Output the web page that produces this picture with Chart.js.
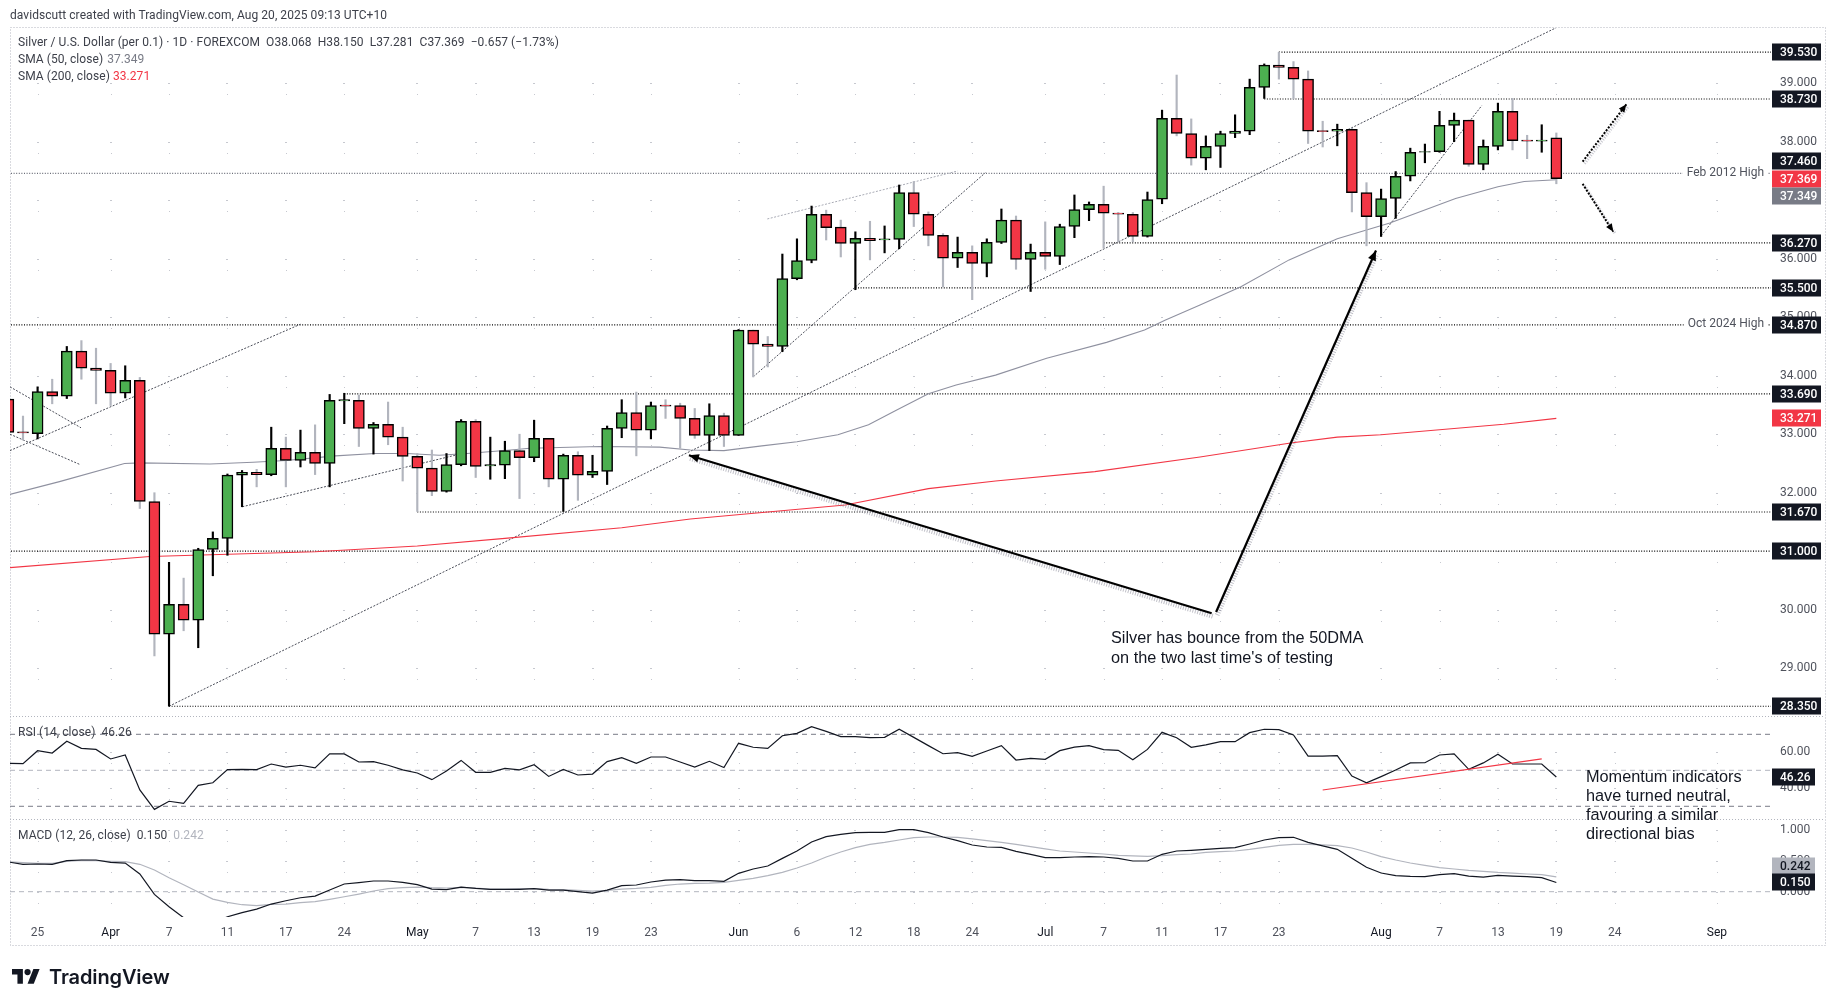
<!DOCTYPE html>
<html>
<head>
<meta charset="utf-8">
<title>Silver / U.S. Dollar</title>
<script src="https://cdn.jsdelivr.net/npm/chart.js@4"></script>
<style>
  html, body { margin:0; padding:0; background:#fff; }
  #wrap { position:relative; width:1835px; height:1006px; overflow:hidden; font-family:Roboto,sans-serif; color:#3d404a; }
  canvas { position:absolute; left:0; top:0; }
  .txt { position:absolute; white-space:pre; font-size:12px; line-height:16px; letter-spacing:.06px; }
  .note { position:absolute; white-space:pre; font-family:"Liberation Sans",Arial,sans-serif; font-size:16.3px; color:#131722; }
  #logo { position:absolute; left:12px; top:968px; }
  #brand { position:absolute; left:49px; top:965px; font:600 20px Inter,sans-serif; color:#131722; letter-spacing:-.12px; }
</style>
</head>
<body>
<div id="wrap">
  <canvas id="chart" width="1835" height="1006"></canvas>
  <div class="txt" style="left:10px;top:7px">davidscutt created with TradingView.com, Aug 20, 2025 09:13 UTC+10</div>
  <div class="txt" style="left:18px;top:34px">Silver / U.S. Dollar (per 0.1) · 1D · FOREXCOM  O38.068  H38.150  L37.281  C37.369  −0.657 (−1.73%)</div>
  <div class="txt" style="left:18px;top:51px">SMA (50, close) <span style="color:#787b86;margin-left:1px">37.349</span></div>
  <div class="txt" style="left:18px;top:68px">SMA (200, close) <span style="color:#f23645">33.271</span></div>
  <div class="txt" style="left:18px;top:724px">RSI (14, close)  46.26</div>
  <div class="txt" style="left:18px;top:827px">MACD (12, 26, close)  0.150  <span style="color:#b2b5be">0.242</span></div>
  <div class="note" style="left:1111px;top:628px;line-height:19.5px">Silver has bounce from the 50DMA
on the two last time's of testing</div>
  <div class="note" style="left:1586px;top:767px;line-height:19px">Momentum indicators
have turned neutral,
favouring a similar
directional bias</div>
  <svg id="logo" width="28" height="16" viewBox="0 0 36 20"><path fill="#131722" d="M14 20H7V8H0V1h14zM28 20h-8l7.5-19h8z"/><circle fill="#131722" cx="20" cy="5" r="4"/></svg>
  <div id="brand">TradingView</div>
</div>
<script>
// bars are counted from Mar 25 = 0, Good Friday has no bar
const opens = [33.60,33.04,33.01,33.73,33.65,34.42,34.13,34.09,33.70,33.92,31.85,29.58,30.09,29.82,31.03,31.22,32.30,32.35,32.31,32.76,32.55,32.69,32.50,33.57,33.58,33.10,33.17,32.95,32.62,32.42,32.02,32.48,33.22,32.46,32.47,32.72,32.60,32.93,32.23,32.64,32.30,32.365,
  33.10,33.37,33.07,33.50,33.49,33.27,32.98,33.32,32.98,34.78,34.54,34.50,35.66,35.97,36.76,36.54,36.26,36.35,36.32,36.33,37.13,36.76,36.40,36.01,36.11,35.92,36.28,36.66,35.99,36.11,36.04,36.55,36.84,36.93,36.78,36.76,36.38,37.02,38.40,38.14,37.72,37.92,38.14,38.18,38.93,39.31,39.27,39.07,38.19,38.18,38.21,37.13,36.72,37.03,37.41,37.82,37.83,38.28,38.37,37.61,37.92,38.52,38.03,38.01,38.068];
const closes = [33.03,33.02,33.73,33.65,34.42,34.13,34.09,33.70,33.92,31.85,29.58,30.09,29.82,31.03,31.22,32.30,32.35,32.31,32.76,32.55,32.69,32.50,33.58,33.59,33.10,33.17,32.95,32.62,32.42,32.02,32.48,33.22,32.45,32.48,32.72,32.60,32.93,32.23,32.64,32.30,32.365,33.10,
  33.37,33.07,33.49,33.48,33.27,32.98,33.32,32.98,34.78,34.54,34.50,35.66,35.97,36.76,36.53,36.26,36.35,36.31,36.34,37.13,36.76,36.40,36.01,36.11,35.92,36.28,36.66,35.99,36.11,36.04,36.55,36.84,36.93,36.78,36.76,36.38,37.01,38.40,38.14,37.72,37.92,38.14,38.18,38.93,39.31,39.27,39.07,38.18,38.17,38.21,37.13,36.72,37.03,37.41,37.82,37.83,38.28,38.37,37.61,37.92,38.52,38.02,38.01,38.03,37.369];
const highs = [33.60,33.31,33.81,33.94,34.50,34.60,34.47,34.21,34.17,33.97,32.00,30.81,30.54,31.05,31.33,32.32,32.38,32.40,33.12,32.95,33.07,33.16,33.68,33.70,33.67,33.20,33.55,33.12,32.67,32.73,32.67,33.25,33.25,32.95,32.88,33.00,33.24,32.93,32.66,32.70,32.64,33.14,
  33.59,33.72,33.55,33.59,33.53,33.44,33.52,33.36,34.79,34.78,34.67,36.08,36.34,36.90,36.83,36.66,36.46,36.64,36.56,37.26,37.32,36.80,36.43,36.37,36.22,36.34,36.85,36.73,36.25,36.63,36.59,37.09,36.97,37.24,36.79,36.79,37.14,38.54,39.14,38.39,38.10,38.18,38.46,39.07,39.33,39.53,39.37,39.21,38.35,38.30,38.23,37.30,37.19,37.49,37.89,37.96,38.52,38.49,38.37,38.03,38.66,38.74,38.11,38.29,38.15];
const lows = [33.03,32.90,32.92,33.52,33.61,33.94,33.52,33.49,33.62,31.73,29.21,28.35,29.64,29.35,30.58,30.93,31.76,32.10,32.29,32.10,32.44,32.31,32.10,33.18,32.79,32.66,32.82,32.20,31.68,31.95,32.01,32.46,32.26,32.23,32.24,31.90,32.53,32.10,31.68,31.87,32.26,32.14,
  32.94,32.63,32.92,33.27,32.76,32.93,32.72,32.79,32.98,33.98,34.15,34.41,35.64,35.93,36.32,36.03,35.47,35.98,36.10,36.17,36.55,36.22,35.52,35.85,35.30,35.69,36.26,35.82,35.44,35.82,35.90,36.36,36.65,36.18,36.29,36.29,36.37,36.94,38.10,37.60,37.52,37.56,38.07,38.12,38.74,39.07,38.73,37.97,37.91,37.93,36.80,36.22,36.38,36.69,37.33,37.64,37.82,38.00,37.58,37.52,37.86,37.86,37.71,37.82,37.281];
const rsi = [53.9,53.7,60.9,59.6,66.1,62.2,61.6,56.3,58.5,39.1,28.3,32.8,31.6,41.6,43.1,50.4,50.5,50.4,53.5,51.8,52.8,51.3,59.1,59.1,54.6,54.8,52.8,50.2,48.5,44.8,49.6,55.5,48.9,48.9,51.1,50.2,53.1,46.6,50.5,47.4,47.9,54.8,
  57.0,53.9,57.4,57.4,54.6,51.8,55.0,51.5,65.0,62.8,62.2,69.2,70.5,74.2,71.6,68.7,68.7,68.1,68.3,72.8,68.3,63.7,59.2,59.8,57.8,60.7,63.7,55.7,56.6,56.1,60.9,62.9,63.7,61.5,61.1,55.9,61.6,71.1,68.1,62.8,64.1,65.9,65.9,70.9,72.8,72.6,69.6,57.9,57.9,58.1,46.8,43.0,46.5,50.2,54.1,54.2,58.5,59.1,50.5,54.1,58.9,53.5,53.5,53.5,46.26];
const macd = [0.484,0.446,0.451,0.446,0.505,0.516,0.516,0.478,0.467,0.288,-0.043,-0.245,-0.424,-0.516,-0.516,-0.408,-0.342,-0.283,-0.201,-0.147,-0.098,-0.071,0.027,0.125,0.147,0.174,0.174,0.152,0.114,0.043,0.033,0.076,0.054,0.038,0.038,0.038,0.049,0.027,0.027,0,-0.022,0.027,
  0.098,0.109,0.158,0.190,0.196,0.179,0.179,0.168,0.299,0.370,0.418,0.543,0.663,0.810,0.897,0.935,0.962,0.967,0.967,1.011,1.011,0.962,0.891,0.832,0.761,0.728,0.723,0.658,0.609,0.554,0.554,0.565,0.571,0.565,0.543,0.500,0.500,0.609,0.663,0.674,0.690,0.707,0.717,0.777,0.842,0.880,0.886,0.804,0.745,0.690,0.543,0.397,0.304,0.261,0.250,0.245,0.277,0.293,0.255,0.239,0.266,0.255,0.245,0.228,0.150];
const signal = [0.489,0.473,0.462,0.462,0.495,0.511,0.505,0.495,0.489,0.446,0.353,0.228,0.114,-0.005,-0.120,-0.174,-0.212,-0.228,-0.207,-0.201,-0.179,-0.163,-0.125,-0.082,-0.038,0.011,0.049,0.065,0.076,0.065,0.060,0.071,0.060,0.043,0.043,0.049,0.049,0.038,0.033,0.022,0.011,0.022,
  0.043,0.054,0.071,0.103,0.125,0.136,0.141,0.152,0.185,0.217,0.261,0.315,0.386,0.467,0.565,0.647,0.717,0.772,0.804,0.842,0.880,0.891,0.891,0.886,0.859,0.832,0.804,0.772,0.734,0.696,0.663,0.647,0.630,0.614,0.592,0.582,0.576,0.587,0.603,0.614,0.641,0.652,0.663,0.690,0.723,0.755,0.772,0.772,0.761,0.750,0.712,0.647,0.571,0.516,0.467,0.429,0.391,0.370,0.348,0.332,0.315,0.304,0.288,0.277,0.242];
const firstBar = -2;

// moving averages, read at the visible bends: bar number and value
const sma50Bars = [-1.9,1.5,5.95,7,11.8,14.75,17,20.4,23.1,25.3,27.5,29.4,32.4,33.7,38.5,42.6,44.7,47,49.6,52,54.8,56.9,58.8,61,62.9,65.6,69.1,73.2,75.8,77.2,79.6,82.4,85.7,89,92.6,97.1,100,101.8,104];
const sma50Vals = [31.97,32.19,32.50,32.51,32.49,32.52,32.55,32.63,32.67,32.67,32.64,32.67,32.73,32.76,32.79,32.78,32.73,32.72,32.80,32.87,32.99,33.16,33.41,33.69,33.84,34.01,34.30,34.57,34.78,34.95,35.21,35.52,35.98,36.34,36.61,37.03,37.23,37.32,37.349];
const sma200Bars = [-1.9,7.7,19,26,32,40,44.7,55.3,61,65.6,72.4,79.6,85.8,89,92,96.2,100.4,104];
const sma200Vals = [30.72,30.91,30.99,31.09,31.22,31.40,31.55,31.79,32.07,32.20,32.36,32.61,32.85,32.95,32.99,33.08,33.17,33.271];

// time axis
const tickBars = [0,5,9,13,17,21,26,30,34,38,42,48,52,56,60,64,69,73,77,81,85,92,96,100,104,108,115];
const tickLabels = ['25','Apr','7','11','17','24','May','7','13','19','23','Jun','6','12','18','24','Jul','7','11','17','23','Aug','7','13','19','24','Sep'];
const monthLabels = ['Apr','May','Jun','Jul','Aug','Sep'];
const priceTicks = [29,30,31,32,33,34,35,36,37,38,39];
const rsiTicks = [40,60];
const macdTicks = [0,0.5,1];

// horizontal levels: value and the bar where the line starts
const levelVals = [39.53,38.73,37.46,36.27,35.5,34.87,33.69,31.67,31,28.35];
const levelBars = [85,84,-2,73,56,-2,21,26,-2,9];
const levelNames = {37.46:'Feb 2012 High',34.87:'Oct 2024 High'};
const rsiGuides = [70,50,30];
const macdGuides = [0];

// drawn lines: bar, price, bar, price
const trendLines = [
  [9,28.35,104,39.95],[-1.89,32.72,18,34.88],[-1.89,33.81,2.97,33.11],[-1.89,33.0,2.92,32.48],
  [14.02,31.76,28.58,32.64],[92,36.39,98.9,38.62],[49,33.98,64.9,37.47]
];
const paleLines = [[49.97,36.68,63,37.50]];
const rsiTrend = [88,39.06,103,56.3];
const bigArrows = [[80.4,29.94,44.6,32.64],[80.7,29.96,91.65,36.14]];
const dotArrows = [[105.8,37.66,108.8,38.64],[105.8,37.28,107.9,36.46]];

// value tags on the right axis
const priceTags = [39.53,38.73,37.46,37.369,37.349,36.27,35.5,34.87,33.69,33.271,31.67,31,28.35];
const tagNudge = {37.46:-12,37.349:16,0.242:-11};

const INK = '#131722', RED = '#f23645', GREEN = '#4caf50', WICK = '#b2b5be', AXIS = '#4f525c';
const X_MIN = -1.89, X_MAX = 118.7;

const barNo = k => k + firstBar;
const rows = (vals, yAxisID, extra) => Object.assign({
  type:'line', yAxisID, pointRadius:0, borderWidth:1.2, tension:0, spanGaps:true,
  data: vals.map((v, k) => ({x:barNo(k), y:v}))
}, extra);
const segment = (pts, yAxisID, extra) => Object.assign({
  type:'line', yAxisID, pointRadius:0, borderWidth:1, tension:0,
  data: [{x:pts[0], y:pts[1]}, {x:pts[2], y:pts[3]}]
}, extra);
const knots = (xs, ys, extra) => Object.assign({
  type:'line', yAxisID:'y', pointRadius:0, borderWidth:1.1, tension:0,
  data: xs.map((x, k) => ({x, y:ys[k]}))
}, extra);

const datasets = [
  {type:'bar', yAxisID:'y', order:3, grouped:false, barThickness:1.5,
   backgroundColor: opens.map((o, k) => closes[k] >= o ? '#000' : WICK),
   data: lows.map((l, k) => ({x:barNo(k), y:[l, highs[k]]}))},
  {type:'bar', yAxisID:'y', order:2, grouped:false, barThickness:11,
   backgroundColor: opens.map((o, k) => closes[k] >= o ? GREEN : RED),
   borderColor:'#000', borderWidth:1.5, borderSkipped:false,
   data: opens.map((o, k) => ({x:barNo(k), y:[o, closes[k]]}))},
  knots(sma50Bars, sma50Vals, {order:6, borderColor:'#8f91a0'}),
  knots(sma200Bars, sma200Vals, {order:6, borderColor:RED}),
  rows(rsi, 'yRsi', {order:4, borderColor:INK}),
  rows(signal, 'yMacd', {order:5, borderColor:WICK}),
  rows(macd, 'yMacd', {order:4, borderColor:INK}),
  segment(rsiTrend, 'yRsi', {order:3, borderColor:RED, borderWidth:1.2})
];
levelVals.forEach((v, k) => datasets.push(segment([levelBars[k], v, X_MAX, v], 'y', {
  order:7, borderWidth:1.2, borderColor: v === 37.46 ? '#6a6d78' : '#000', borderDash:[1,1.6]})));
rsiGuides.forEach(v => datasets.push(segment([X_MIN, v, X_MAX, v], 'yRsi', {
  order:7, borderColor: v === 50 ? WICK : '#787b86', borderDash:[5,4]})));
macdGuides.forEach(v => datasets.push(segment([X_MIN, v, X_MAX, v], 'yMacd', {
  order:7, borderColor:WICK, borderDash:[5,4]})));
trendLines.forEach(t => datasets.push(segment(t, 'y', {order:6, borderColor:'#4a4d58', borderDash:[2,1.5]})));
paleLines.forEach(t => datasets.push(segment(t, 'y', {order:6, borderColor:'#a9abb5', borderDash:[2,1.5]})));
bigArrows.forEach(t => {
  datasets.push(segment(t, 'y', {order:1.5, borderColor:'rgba(140,140,155,.55)', borderWidth:5, borderDash:[1,1.5], shift:[1,3]}));
  datasets.push(segment(t, 'y', {order:1, borderColor:'#000', borderWidth:2.2, arrow:10}));
});
dotArrows.forEach(t => {
  datasets.push(segment(t, 'y', {order:1.5, borderColor:'rgba(140,140,155,.5)', borderWidth:3, borderDash:[1,1.5], shift:[2,2]}));
  datasets.push(segment(t, 'y', {order:1, borderColor:'#000', borderWidth:2, borderDash:[2,1.5], arrow:8}));
});

const fixedTicks = list => scale => { scale.ticks = list.map(value => ({value})); };
const fitWidth = scale => { scale.width = 54; };
const yAxis = (min, max, weight, stackWeight, list, digits) => ({
  type:'linear', position:'right', stack:'panes', stackWeight, weight, min, max,
  grid:{display:false, drawTicks:false}, border:{display:false},
  afterBuildTicks: fixedTicks(list), afterFit: fitWidth,
  ticks:{autoSkip:false, padding:9, color:AXIS, font:{family:'Roboto', size:12},
         callback: v => v.toFixed(digits)}
});

// dotted pane frame, faint grid specks, arrow heads and value tags
const chrome = {
  id:'chrome',
  beforeDatasetsDraw(chart) {
    const {ctx, chartArea:a, scales} = chart;
    ctx.save();
    ctx.fillStyle = '#c6c8cf';
    tickBars.forEach(t => {
      const x = Math.round(scales.x.getPixelForValue(t));
      ['y','yRsi','yMacd'].forEach(id => scales[id].ticks.forEach(tk => {
        const y = Math.round(scales[id].getPixelForValue(tk.value));
        ctx.fillRect(x - 1, y, 2, 1);
        ctx.fillRect(x, y + 11, 1, 1);
      }));
    });
    ctx.strokeStyle = '#b2b5be';
    ctx.setLineDash([1,2]);
    ctx.lineWidth = 1;
    ctx.beginPath();
    ctx.rect(10.5, a.top - .5, 1815, 946 - a.top);
    [scales.y.bottom, scales.yRsi.bottom].forEach(y => {
      ctx.moveTo(10, Math.round(y) + .5);
      ctx.lineTo(1825, Math.round(y) + .5);
    });
    ctx.stroke();
    ctx.restore();
  },
  beforeDatasetDraw(chart, args) {
    const shift = chart.data.datasets[args.index].shift;
    if (shift) {
      chart.ctx.save();
      chart.ctx.translate(shift[0], shift[1]);
    }
  },
  afterDatasetDraw(chart, args) {
    if (chart.data.datasets[args.index].shift) chart.ctx.restore();
  },
  afterDraw(chart) {
    const {ctx, scales} = chart;
    ctx.save();
    chart.data.datasets.forEach((d, i) => {
      if (!d.arrow) return;
      const [p0, p1] = chart.getDatasetMeta(i).data;
      const ang = Math.atan2(p1.y - p0.y, p1.x - p0.x);
      ctx.save();
      ctx.translate(p1.x, p1.y);
      ctx.rotate(ang);
      ctx.fillStyle = '#000';
      ctx.beginPath();
      ctx.moveTo(0, 0);
      ctx.lineTo(-d.arrow, -d.arrow * .42);
      ctx.lineTo(-d.arrow, d.arrow * .42);
      ctx.fill();
      ctx.restore();
    });

    ctx.textBaseline = 'middle';
    ctx.font = '12px Roboto';
    ctx.fillStyle = AXIS;
    Object.keys(levelNames).forEach(v => {
      const y = scales.y.getPixelForValue(+v);
      const w = ctx.measureText(levelNames[v]).width;
      ctx.save();
      ctx.fillStyle = '#fff';
      ctx.fillRect(1764 - w - 4, y - 8, w + 8, 16);
      ctx.restore();
      ctx.fillText(levelNames[v], 1764 - w, y - .5);
    });

    ctx.font = '500 12px Roboto';
    const tag = (scale, value, text, w, bg, fg) => {
      const y = Math.round(scale.getPixelForValue(value)) + (tagNudge[value] || 0);
      ctx.fillStyle = bg;
      ctx.fillRect(1772, y - 8.5, w, 17);
      ctx.fillStyle = fg;
      ctx.fillText(text, 1780, y + .5);
    };
    priceTags.forEach(v => {
      const bg = v === 37.369 || v === 33.271 ? RED : v === 37.349 ? '#787b86' : INK;
      tag(scales.y, v, v.toFixed(3), 49, bg, '#fff');
    });
    tag(scales.yRsi, rsi[rsi.length - 1], '46.26', 43, INK, '#fff');
    tag(scales.yMacd, signal[signal.length - 1], '0.242', 43, WICK, INK);
    tag(scales.yMacd, macd[macd.length - 1], '0.150', 43, INK, '#fff');
    ctx.restore();
  }
};

new Chart(document.getElementById('chart'), {
  type:'bar',
  data:{datasets},
  plugins:[chrome],
  options:{
    responsive:false, animation:false, devicePixelRatio:1,
    layout:{padding:{left:10, top:28, right:10, bottom:60}},
    plugins:{legend:{display:false}, tooltip:{enabled:false}},
    scales:{
      x:{
        type:'linear', min:X_MIN, max:X_MAX, offset:false,
        grid:{display:false, offset:false, drawTicks:false}, border:{display:false},
        afterBuildTicks: fixedTicks(tickBars),
        afterFit: s => { s.height = 29; },
        ticks:{
          autoSkip:false, maxRotation:0, padding:9, color:ctx => monthLabels.includes(tickLabels[ctx.index]) ? INK : AXIS,
          font:{family:'Roboto', size:12},
          callback:(v, k) => tickLabels[k]
        }
      },
      y: yAxis(28.183, 39.944, 1, 688, priceTicks, 3),
      yRsi: yAxis(22.94, 80.17, 2, 103, rsiTicks, 2),
      yMacd: yAxis(-0.412, 1.184, 3, 98, macdTicks, 3)
    }
  }
});
</script>
</body>
</html>
